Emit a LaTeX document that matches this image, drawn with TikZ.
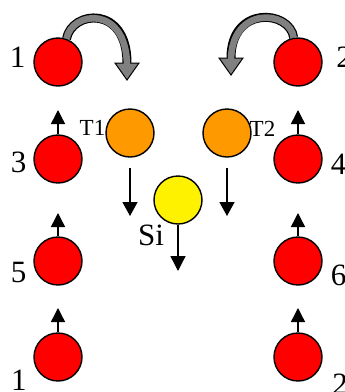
\documentclass[tikz,border=0pt]{standalone}
\usepackage{fontspec}
\setmainfont{Liberation Serif}
\usetikzlibrary{arrows.meta}
\definecolor{tOrange}{HTML}{FF9900}
\definecolor{hopGray}{HTML}{808080}
\begin{document}
\begin{tikzpicture}[x=1pt,y=-1pt,
  ball/.style={circle, draw=black, line width=1.4pt, minimum size=48pt, inner sep=0pt},
  lbl/.style={font=\fontsize{31}{34}\selectfont, inner sep=0pt, anchor=base},
  slbl/.style={font=\fontsize{23}{26}\selectfont, inner sep=0pt, anchor=base west},
  sibl/.style={font=\fontsize{31}{34}\selectfont, inner sep=0pt, anchor=base west},
  spin/.style={-{Triangle[width=14pt,length=14pt]}, line width=1.4pt, draw=black},
  hopout/.style={draw=black, line width=9pt},
  hopin/.style={draw=hopGray, line width=6.6pt, shorten >=-3pt},
  hophead/.style={fill=hopGray, draw=black, line width=1pt, line join=miter}]
\useasboundingbox (0,0) rectangle (345,392);

% balls
\node[ball, fill=red] (b1) at (58,62) {};
\node[ball, fill=red] (b2) at (298,62) {};
\node[ball, fill=tOrange] (t1) at (130,133) {};
\node[ball, fill=tOrange] (t2) at (227,133) {};
\node[ball, fill=red] (b3) at (58,159) {};
\node[ball, fill=red] (b4) at (298,159) {};
\node[ball, fill=yellow] (si) at (178,200) {};
\node[ball, fill=red] (b5) at (58,261) {};
\node[ball, fill=red] (b6) at (298,261) {};
\node[ball, fill=red] (b7) at (58,357) {};
\node[ball, fill=red] (b8) at (298,357) {};

% labels
\node[lbl] (l1) at (17.5,67) {1};
\node[lbl] (l2) at (344,67) {2};
\node[lbl] (l3) at (18.5,172) {3};
\node[lbl] (l4) at (338.5,174) {4};
\node[lbl] (l5) at (18.5,282) {5};
\node[lbl] (l6) at (338.5,285) {6};
\node[lbl] (l7) at (19,390) {1};
\node[lbl] (l8) at (340,394) {2};
\node[slbl] (lt1) at (79.5,135) {T1};
\node[slbl] (lt2) at (249.5,136) {T2};
\node[sibl] (lsi) at (138,245) {Si};

% spin arrows
\coordinate (s3) at (58,110);
\coordinate (s4) at (298,110);
\coordinate (s5) at (58,213);
\coordinate (s6) at (298,213);
\coordinate (s7) at (58,308);
\coordinate (s8) at (298,308);
\draw[spin] (b3) -- (s3);
\draw[spin] (b4) -- (s4);
\draw[spin] (b5) -- (s5);
\draw[spin] (b6) -- (s6);
\draw[spin] (b7) -- (s7);
\draw[spin] (b8) -- (s8);

% down arrows
\coordinate (d1a) at (130,168);
\coordinate (d1b) at (130,216);
\coordinate (d2a) at (227,168);
\coordinate (d2b) at (227,216);
\coordinate (d3) at (178,271);
\draw[spin, -{Triangle[width=15pt,length=14pt]}] (d1a) -- (d1b);
\draw[spin, -{Triangle[width=15pt,length=14pt]}] (d2a) -- (d2b);
\draw[spin, -{Triangle[width=15pt,length=15pt]}] (si) -- (d3);

% hopping arrows
\coordinate (h1) at (127,63);
\coordinate (h2) at (231,58);
\filldraw[hophead] (115,63) -- (139,63) -- (127,80) -- cycle;
\draw[hopout] (b1.70) .. controls (72,10) and (127,5) .. (h1);
\draw[hopin] (b1.70) .. controls (72,10) and (127,5) .. (h1);
\filldraw[hophead] (219,58) -- (243,58) -- (231,75) -- cycle;
\draw[hopout] (b2.100) .. controls (290,10) and (231,5) .. (h2);
\draw[hopin] (b2.100) .. controls (290,10) and (231,5) .. (h2);
\end{tikzpicture}
\end{document}
